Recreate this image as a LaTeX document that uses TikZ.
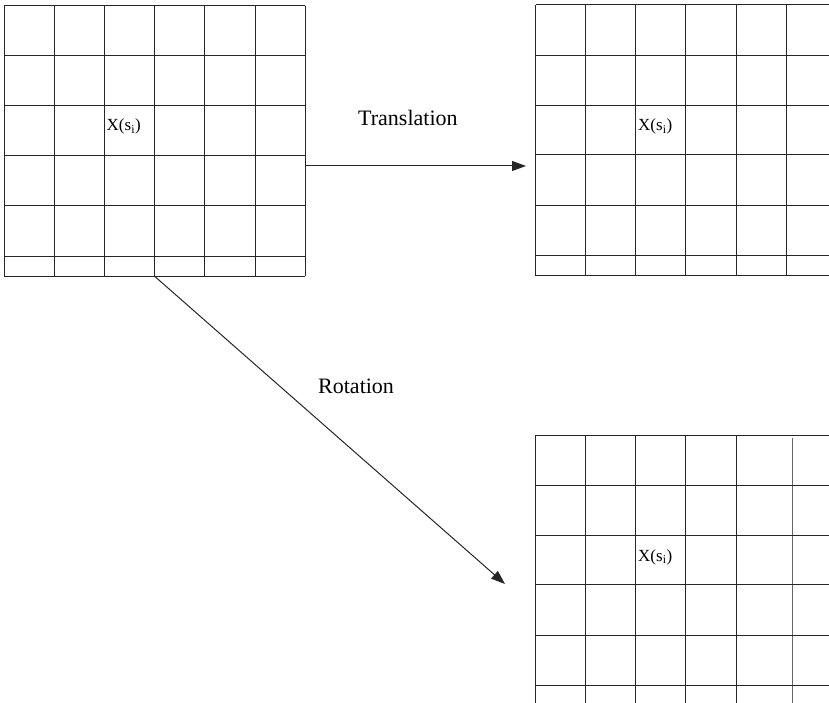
\documentclass[tikz,border=0pt]{standalone}
\usepackage{fontspec}
\setmainfont{Liberation Serif}
\usetikzlibrary{arrows.meta}
\tikzset{
  gridline/.style={line width=1pt, draw=black!85},
  conn/.style={line width=1pt, draw=black!85, -{Triangle[length=14pt,width=10pt]}},
  lbl/.style={font=\fontsize{22}{24}\selectfont, inner sep=0pt, anchor=base west},
  cell/.style={font=\fontsize{17}{19}\selectfont, inner sep=0pt, anchor=base west},
}
\begin{document}
\begin{tikzpicture}[x=1pt,y=-1pt]
\useasboundingbox (0,0) rectangle (829,703);
% top-left grid
\foreach \x in {4.3,54.3,104.3,154.3,204.6,255,305}
  \draw[gridline] (\x,6) -- (\x,276);
\foreach \y in {6,56,106,156,206,256,276}
  \draw[gridline] (4.3,\y) -- (305,\y);
% top-right grid
\foreach \x in {535.7,585.7,635.7,685.7,736.3,786.3}
  \draw[gridline] (\x,5) -- (\x,275.7);
\foreach \y in {5,55.7,105.7,155,205.7,255.7,275.7}
  \draw[gridline] (535.7,\y) -- (829,\y);
% bottom-right grid
\foreach \x in {535.7,585.7,635.7,685.7,736.3}
  \draw[gridline] (\x,435) -- (\x,703);
\draw[gridline, draw=black!60] (792.3,438) -- (792.3,703);
\foreach \y in {435,485,535,584.3,635,685}
  \draw[gridline] (535.7,\y) -- (829,\y);
% cell labels
\node[cell] (xa) at (106.5,131) {X(s\textsubscript{i})};
\node[cell] (xb) at (638,131) {X(s\textsubscript{i})};
\node[cell] (xc) at (638,561) {X(s\textsubscript{i})};
% connectors
\coordinate (tstart) at (305,166);
\coordinate (tend) at (526,166);
\coordinate (rstart) at (154.3,276);
\coordinate (rend) at (505,584);
\draw[conn] (tstart) -- (tend);
\draw[conn] (rstart) -- (rend);
\node[lbl] (tl) at (358,126) {Translation};
\node[lbl] (rl) at (318,393) {Rotation};
\end{tikzpicture}
\end{document}
